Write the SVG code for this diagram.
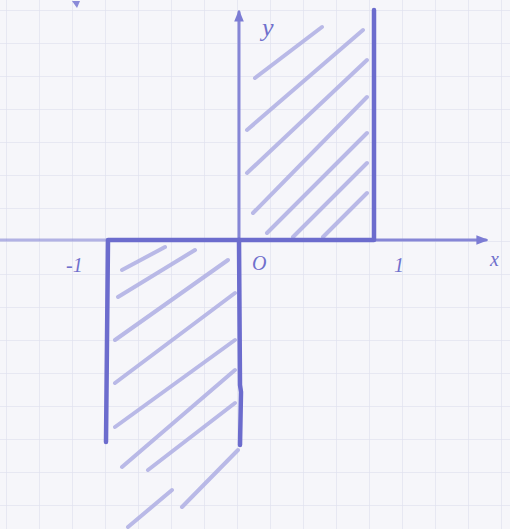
<svg xmlns="http://www.w3.org/2000/svg" width="510" height="529" viewBox="0 0 510 529">
<style>
.grid{stroke:#e2e3f0;stroke-width:1.5;fill:none}
.ink{stroke:#6c6ccd;stroke-width:4.5;fill:none;stroke-linecap:round;stroke-linejoin:round}
.thin{stroke:#8686d6;stroke-width:3;fill:none;stroke-linecap:round}
.hatch{stroke:#aeaee3;stroke-width:4;fill:none;stroke-linecap:round;opacity:0.85}
.lbl{font-family:"Liberation Serif",serif;font-style:italic;fill:#7070cc}
</style>
<defs>
<pattern id="g" width="33" height="33" patternUnits="userSpaceOnUse" x="6" y="10">
<path class="grid" d="M0 0H33M0 0V33"/>
</pattern>
<marker id="ah" viewBox="0 0 10 10" refX="8" refY="5" markerWidth="4" markerHeight="4" orient="auto">
<path d="M0 1L10 5L0 9z" fill="#7c7cd4"/>
</marker>
</defs>
<rect width="510" height="529" fill="#f6f6fa"/>
<rect width="510" height="529" fill="url(#g)"/>
<g id="hatching">
<path class="hatch" d="M255 78L322 27M247 130L363 30M247 173L367 60M253 213L367 97M267 233L367 133M293 237L367 163M323 237L367 193"/>
<path class="hatch" d="M122 270L165 247M118 297L195 250M115 340L228 260M115 383L235 293M115 427L235 340M122 467L235 370M148 470L235 403M182 507L238 450M128 527L172 490"/>
</g>
<g id="connectors">
<path class="thin" d="M0 240H108" opacity="0.6"/>
<path class="thin" d="M374 240H486" marker-end="url(#ah)"/>
<path class="thin" d="M239 240V12" marker-end="url(#ah)"/>
</g>
<g id="upper-region">
<path class="ink" d="M239 240H374V10"/>
</g>
<g id="lower-region">
<path class="ink" d="M239 240H108L106 442"/>
<path class="ink" d="M239 240L240 385L241 392L240 445"/>
</g>
<path d="M72 1L80 1L77 8z" fill="#8a8ad8"/>
<g id="labels">
<text class="lbl" x="262" y="36" font-size="26">y</text>
<text class="lbl" x="66" y="272" font-size="20">-1</text>
<text class="lbl" x="252" y="270" font-size="20">O</text>
<text class="lbl" x="394" y="272" font-size="20">1</text>
<text class="lbl" x="490" y="266" font-size="20">x</text>
</g>
</svg>
